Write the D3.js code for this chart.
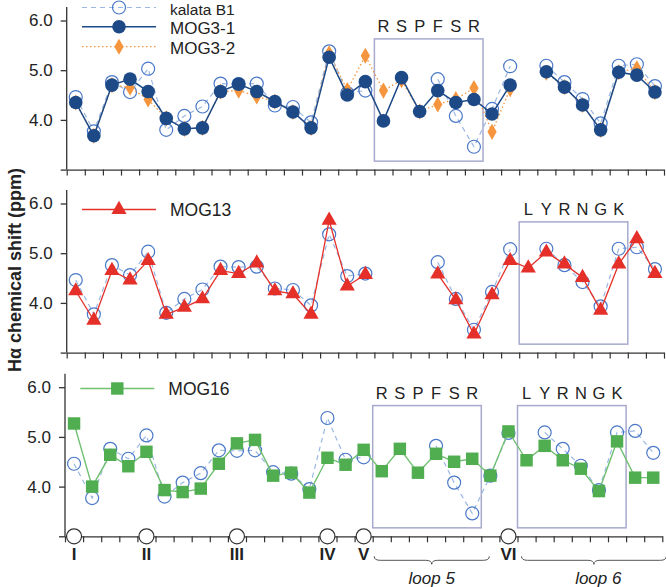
<!DOCTYPE html>
<html><head><meta charset="utf-8">
<script src="https://cdn.jsdelivr.net/npm/d3@7"></script>
<style>body{margin:0;background:#fff}svg{display:block}text{font-family:"Liberation Sans",Arial,sans-serif;fill:#222}</style>
</head><body><svg id="c" width="666" height="587"></svg>
<script>
// ---- data ----
const positions = d3.range(33);
const kalataB1 = [4.46,3.77,4.76,4.56,5.03,3.80,4.08,4.27,4.73,4.72,4.73,4.29,4.26,3.95,5.38,4.54,4.59,null,null,null,4.82,4.08,3.46,4.22,5.08,null,5.09,4.76,4.42,3.93,5.09,5.12,4.68];
const mog3_1 = [4.35,3.68,4.70,4.82,4.57,4.03,3.82,3.84,4.57,4.72,4.57,4.37,4.16,3.84,5.26,4.50,4.77,3.98,4.85,4.17,4.59,4.35,4.41,4.12,4.70,null,4.97,4.66,4.30,3.80,4.96,4.90,4.56];
const mog3_2 = [4.35,3.68,4.70,4.65,4.41,4.03,3.82,3.84,4.57,4.59,4.47,4.37,4.16,3.84,5.34,4.60,5.29,4.59,4.80,4.17,4.31,4.42,4.64,3.76,4.62,null,4.95,4.66,4.30,3.80,4.96,5.04,4.56];
const mog13 = [4.24,3.65,4.65,4.46,4.85,3.77,3.91,4.08,4.65,4.59,4.80,4.24,4.18,3.77,5.66,4.34,4.57,null,null,null,4.58,4.06,3.37,4.16,4.85,4.70,5.02,4.78,4.51,3.85,4.78,5.29,4.59];
const mog16 = [5.27,4.00,4.64,4.41,4.70,3.93,3.89,3.96,4.46,4.87,4.94,4.22,4.28,3.88,4.58,4.44,4.74,4.31,4.76,4.28,4.66,4.50,4.56,4.22,5.11,4.53,4.82,4.53,4.36,3.91,4.91,4.18,4.18];
const yTicks = [3, 4, 5, 6];
const loop5Letters = ["R","S","P","F","S","R"];
const loop5Start = 17;
const loop6Letters = ["L","Y","R","N","G","K"];
const loop6Start = 25;
const cysPos = [0, 4, 9, 14, 16, 24];
const cysLabels = ["I","II","III","IV","V","VI"];

// ---- layout ----
const svg = d3.select("#c");
const X0 = 66.7, X1 = 664;
const xb = d3.scaleLinear().domain([0, 33]).range([X0, X1]);
const xc = i => xb(i + 0.5);
const PPM = 49.7;

const C = {
  kb: "#4a78c8", kbLine: "#9bb8e3",
  m31: "#1d4a87", m32: "#f5963f", m13: "#e5302a",
  m16: "#50ae50", m16Line: "#72c072", box: "#a7aacd", axis: "#333"
};

function makeY(y6){ return d3.scaleLinear().domain([3, 6]).range([y6 + 3*PPM, y6]); }

function axes(g, y){
  g.append("line").attr("x1", X0).attr("x2", X0).attr("y1", y(6.27)).attr("y2", y(3))
    .attr("stroke", C.axis).attr("stroke-width", 1.3);
  const ya = d3.axisLeft(y).tickValues(yTicks).tickSize(6).tickSizeOuter(0)
    .tickFormat(d => d === 3 ? "" : d3.format(".1f")(d));
  const gy = g.append("g").attr("transform", `translate(${X0},0)`).call(ya);
  gy.select(".domain").remove();
  gy.selectAll("line").attr("stroke", C.axis).attr("stroke-width", 1.3);
  gy.selectAll("text").attr("font-size", 17).attr("x", -14).attr("fill", "#222");
  const xa = d3.axisBottom(xb).tickValues(d3.range(34)).tickSize(6).tickSizeOuter(0).tickFormat("");
  const gx = g.append("g").attr("transform", `translate(0,${y(3)})`).call(xa);
  gx.select(".domain").attr("stroke", C.axis).attr("stroke-width", 1.3);
  gx.selectAll("line").attr("stroke", C.axis).attr("stroke-width", 1.2);
}

function series(g, y, data, opt){
  const line = d3.line().defined(d => d != null).x((d, i) => xc(i)).y(d => y(d));
  g.append("path").attr("d", line(data)).attr("fill", "none")
    .attr("stroke", opt.line).attr("stroke-width", opt.lw || 1.3)
    .attr("stroke-dasharray", opt.dash || null);
  const pts = data.map((v, i) => ({v, i})).filter(d => d.v != null);
  drawMarks(g, pts.map(d => [xc(d.i), y(d.v)]), opt);
}

function drawMarks(g, pts, opt){
  pts.forEach(([px, py]) => {
    if (opt.shape === "circle") {
      g.append("circle").attr("cx", px).attr("cy", py).attr("r", opt.r)
        .attr("fill", opt.fill).attr("stroke", opt.stroke || "none").attr("stroke-width", opt.sw || 1.2);
    } else {
      const sym = d3.symbol().type(opt.shape).size(opt.size);
      g.append("path").attr("d", sym()).attr("transform", `translate(${px},${py + (opt.dy || 0)})`)
        .attr("fill", opt.fill);
    }
  });
}

function legend(g, yy, label, opt, ty, fs){
  g.append("line").attr("x1", 82).attr("x2", 156).attr("y1", yy).attr("y2", yy)
    .attr("stroke", opt.line).attr("stroke-width", opt.lw || 1.3).attr("stroke-dasharray", opt.dash || null);
  drawMarks(g, [[119, yy]], opt);
  g.append("text").attr("x", 170).attr("y", ty != null ? ty : yy + 6).attr("font-size", fs || 17.5).text(label);
}

function box(g, y, start, letters){
  g.append("rect").attr("x", xb(start)).attr("y", y(5.63))
    .attr("width", xb(start + letters.length) - xb(start)).attr("height", y(3.17) - y(5.63))
    .attr("fill", "none").attr("stroke", C.box).attr("stroke-width", 1.5);
  letters.forEach((L, k) => {
    g.append("text").attr("x", xc(start + k)).attr("y", y(5.76)).attr("text-anchor", "middle")
      .attr("font-size", 16.5).text(L);
  });
}

const kbOpt = {shape: "circle", r: 6.5, fill: "none", stroke: C.kb, sw: 1.2, line: C.kbLine, dash: "5,4", lw: 1.2};
const m31Opt = {shape: "circle", r: 6.8, fill: C.m31, line: C.m31, lw: 1.5};
const m32Opt = {shape: d3.symbolDiamond, size: 75, fill: C.m32, line: C.m32, dash: "1.5,2.5", lw: 1.3};
const m13Opt = {shape: d3.symbolTriangle, size: 100, fill: C.m13, line: C.m13, lw: 1.3, dy: 0};
const m16Opt = {shape: d3.symbolSquare, size: 155, fill: C.m16, line: C.m16Line, lw: 1.4};

// ---- top panel ----
{
  const g = svg.append("g"); const y = makeY(20.5);
  axes(g, y);
  box(g, y, loop5Start, loop5Letters);
  series(g, y, kalataB1, kbOpt);
  series(g, y, mog3_2, m32Opt);
  series(g, y, mog3_1, m31Opt);
  legend(g, 7.5, "kalata B1", kbOpt, 15.3, 15.5);
  legend(g, 26.7, "MOG3-1", m31Opt, 34, 17);
  legend(g, 46.7, "MOG3-2", m32Opt, 53.5, 17);
}
// ---- middle panel ----
{
  const g = svg.append("g"); const y = makeY(203.5);
  axes(g, y);
  box(g, y, loop6Start, loop6Letters);
  series(g, y, kalataB1, kbOpt);
  series(g, y, mog13, m13Opt);
  legend(g, 209.5, "MOG13", m13Opt);
}
// ---- bottom panel ----
{
  const g = svg.append("g").attr("transform", "translate(-1.7,0)"); const y = makeY(387.2);
  axes(g, y);
  box(g, y, loop5Start, loop5Letters);
  box(g, y, loop6Start, loop6Letters);
  series(g, y, kalataB1, kbOpt);
  series(g, y, mog16, m16Opt);
  legend(g, 388.5, "MOG16", m16Opt);
  // cysteine markers
  cysPos.forEach((p, k) => {
    g.append("circle").attr("cx", xc(p)).attr("cy", y(3)).attr("r", 7.5)
      .attr("fill", "#fff").attr("stroke", "#333").attr("stroke-width", 1.2);
    g.append("text").attr("x", xc(p)).attr("y", y(3) + 24).attr("text-anchor", "middle")
      .attr("font-size", 17).attr("font-weight", "bold").text(cysLabels[k]);
  });
  // braces
  function brace(x1, x2, yy, h){
    const xm = (x1 + x2) / 2, q = 6;
    return `M${x1},${yy - h} Q${x1},${yy} ${x1 + q},${yy} L${xm - q},${yy} Q${xm},${yy} ${xm},${yy + h} Q${xm},${yy} ${xm + q},${yy} L${x2 - q},${yy} Q${x2},${yy} ${x2},${yy - h}`;
  }
  const by = y(3) + 24;
  const b5a = xb(loop5Start) + 1.5, b5b = xb(loop5Start + 6) + 8;
  const b6a = xb(loop6Start) + 4, b6b = 668;
  g.append("path").attr("d", brace(b5a, b5b, by, 4)).attr("fill", "none").attr("stroke", "#555").attr("stroke-width", 1);
  g.append("path").attr("d", brace(b6a, b6b, by, 4)).attr("fill", "none").attr("stroke", "#555").attr("stroke-width", 1);
  g.append("text").attr("x", (b5a + b5b) / 2).attr("y", 584).attr("text-anchor", "middle")
    .attr("font-size", 17).attr("font-style", "italic").text("loop 5");
  g.append("text").attr("x", 600).attr("y", 584).attr("text-anchor", "middle")
    .attr("font-size", 17).attr("font-style", "italic").text("loop 6");
}
// y label
svg.append("text").attr("transform", "translate(21,270) rotate(-90)").attr("text-anchor", "middle")
  .attr("font-size", 18).attr("font-weight", "bold").text("Hα chemical shift (ppm)");
</script></body></html>
